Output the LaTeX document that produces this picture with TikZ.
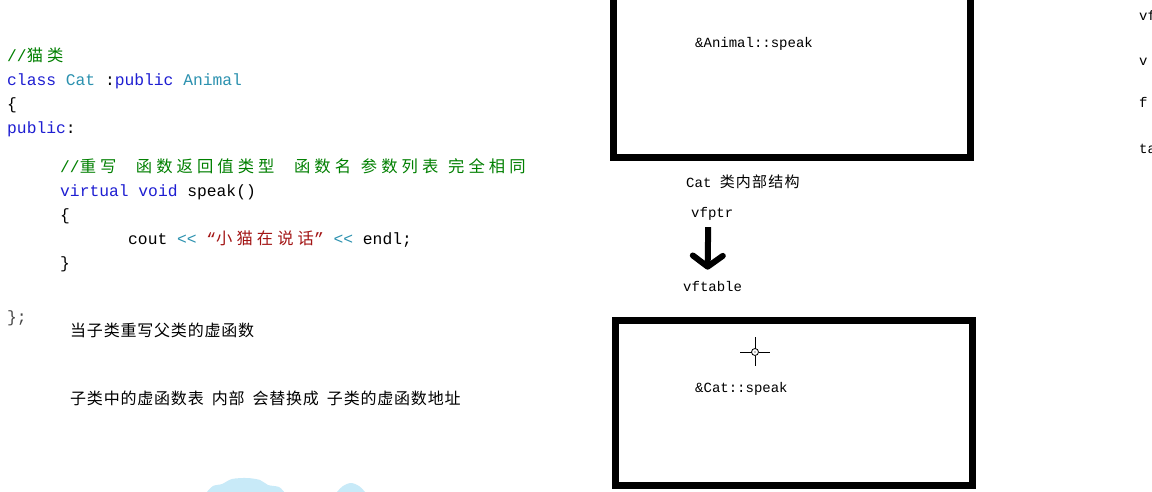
\documentclass[tikz,border=0pt]{standalone}
\usepackage{fontspec}
\setmonofont{Liberation Mono}
\newfontfamily\cjkcode{Noto Sans CJK SC}[LetterSpace=25]
\newfontfamily\cjktext{Noto Sans CJK SC}[LetterSpace=5]
\newfontfamily\cjkmem{Noto Sans CJK SC}[LetterSpace=8]
\usetikzlibrary{arrows.meta}

\definecolor{codegreen}{RGB}{0,128,0}
\definecolor{codeblue}{RGB}{30,30,210}
\definecolor{codeteal}{RGB}{43,145,175}
\definecolor{codered}{RGB}{163,21,21}
\definecolor{codegray}{RGB}{70,70,70}
\definecolor{cloudblue}{RGB}{200,234,248}

\newcommand{\zh}[1]{{\cjkcode #1}}

\tikzset{
  code/.style={anchor=base west, inner sep=0pt, font=\ttfamily\fontsize{16.3}{18}\selectfont},
  note/.style={anchor=base west, inner sep=0pt, font=\cjktext\fontsize{16}{18}\selectfont},
  mem/.style={anchor=base west, inner sep=0pt, font=\ttfamily\fontsize{14}{16}\selectfont},
  box/.style={draw, line width=7pt, inner sep=0pt},
  fatarrow/.style={line width=6pt, -{Straight Barb[length=11pt,width=30pt,line width=6pt,round]}},
}

\begin{document}
\begin{tikzpicture}[x=1pt, y=-1pt]
    \useasboundingbox (0,0) rectangle (1152,491);
    \fill[white] (0,0) rectangle (1152,491);
    \begin{scope}
    \clip (0,0) rectangle (1152,491);
    % code on the left
    \node[code, codegreen] (cmtcat) at (7,61) {//\zh{猫类}};
    \node[code] (clsline) at (7,85) {\color{codeblue}class \color{codeteal}Cat \color{black}:\color{codeblue}public \color{codeteal}Animal};
    \node[code] (lbrace) at (7,109) {\{};
    \node[code] (pub) at (7,133) {\color{codeblue}public\color{black}:};
    \node[code, codegreen] (cmtover) at (60,172) {//\zh{重写}\ \ \zh{函数返回值类型}\ \ \zh{函数名}\ \zh{参数列表}\ \zh{完全相同}};
    \node[code] (sig) at (60,196) {\color{codeblue}virtual void \color{black}speak()};
    \node[code] (fbrace) at (60,220) {\{};
    \node[code] (coutline) at (128,244) {cout \textcolor{codeteal}{<<} \textcolor{codered}{“\zh{小猫在说话}”} \textcolor{codeteal}{<<} endl;};
    \node[code] (fend) at (60,268) {\}};
    \node[code, codegray] (cend) at (7,322) {\};};
    % notes
    \node[note] (note1) at (70,336) {当子类重写父类的虚函数};
    \node[note] (note2) at (70,404) {子类中的虚函数表\hspace{8pt}内部\hspace{8pt}会替换成\hspace{8pt}子类的虚函数地址};
    % memory layout
    \node[box, minimum width=357pt, minimum height=177pt] (animalbox) at (791.75,68.5) {};
    \node[mem] (animalfn) at (695,47) {\&Animal::speak};
    \node[mem] (catlabel) at (686,187) {Cat {\cjkmem\fontsize{15}{16}\selectfont 类内部结构}};
    \node[mem] (vfptr) at (691,217) {vfptr};
    \node[mem] (vftable) at (683,291) {vftable};
    \draw[fatarrow] ([xshift=-4pt,yshift=-7pt]vfptr.south) -- ([xshift=-5pt,yshift=11pt]vftable.north);
    \node[box, minimum width=356.5pt, minimum height=165pt] (catbox) at (793.75,402.5) {};
    \node[mem] (catfn) at (695,392) {\&Cat::speak};
    % mouse cursor
    \coordinate (cursor) at (755,352);
    \draw[line width=0.8pt] (cursor) circle (3.5pt);
    \fill (cursor) circle (0.7pt);
    \draw[line width=0.8pt] ([xshift=-15pt]cursor) -- ([xshift=-3.5pt]cursor)
                            ([xshift=3.5pt]cursor) -- ([xshift=15pt]cursor)
                            ([yshift=15pt]cursor) -- ([yshift=3.5pt]cursor)
                            ([yshift=-3.5pt]cursor) -- ([yshift=-14pt]cursor);
    % cut-off text at the right edge
    \node[mem] (edge1) at (1139,20) {vf};
    \node[mem] (edge2) at (1139,65) {v};
    \node[mem] (edge3) at (1139,107) {f};
    \node[mem] (edge4) at (1139,153) {ta};
    % cloud at the bottom
    \fill[cloudblue] plot[smooth] coordinates {(206,493) (213,486) (222,484) (232,479) (247,478) (260,480) (268,485) (279,487) (285,493)} -- cycle;
    \fill[cloudblue] plot[smooth] coordinates {(336,493) (343,486) (351,483) (359,486) (366,493)} -- cycle;
    \end{scope}
\end{tikzpicture}
\end{document}
